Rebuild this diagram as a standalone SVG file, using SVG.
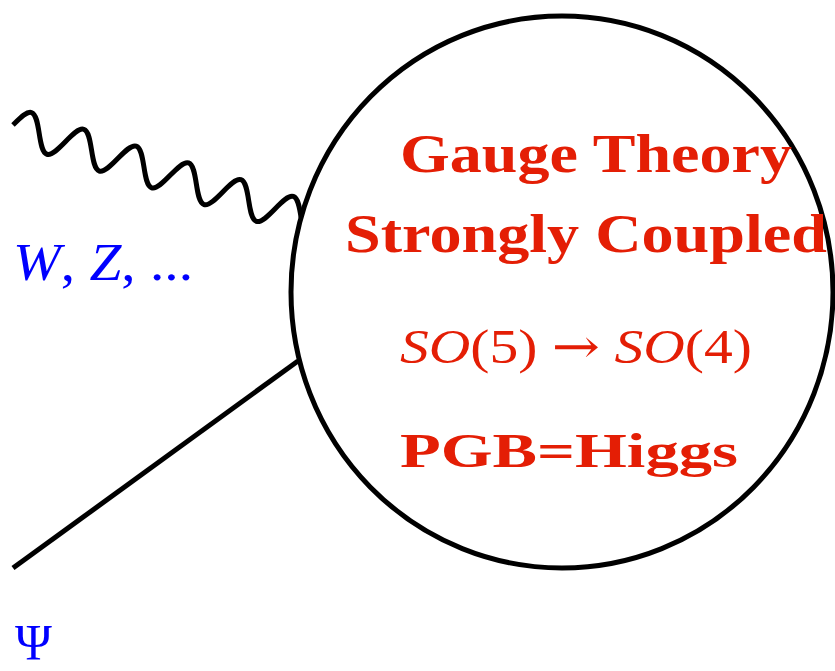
<svg xmlns="http://www.w3.org/2000/svg" width="835" height="671" viewBox="0 0 835 671">
<style>
.ln{fill:none;stroke:#000;stroke-width:5;stroke-linecap:butt;stroke-linejoin:round}
.red{fill:#e41e05;font-family:"Liberation Serif","Times New Roman",serif}
.b{font-weight:bold}
.blue{fill:#0000ff;font-family:"Liberation Serif","Times New Roman",serif}
.it{font-style:italic}
.arr{font-family:"DejaVu Serif",serif;font-style:normal}
</style>
<rect width="835" height="671" fill="#fff"/>
<g id="connectors">
<path class="ln" transform="translate(13,125) rotate(17.77)" d="M0,0
c 4.485,-8.453 8.774,-17.5 13.75,-17.5 c 4.976,0 9.265,8.547 13.75,17.5 c 4.485,8.953 8.774,17.5 13.75,17.5 c 4.976,0 9.265,-8.547 13.75,-17.5
c 4.485,-8.953 8.774,-17.5 13.75,-17.5 c 4.976,0 9.265,8.547 13.75,17.5 c 4.485,8.953 8.774,17.5 13.75,17.5 c 4.976,0 9.265,-8.547 13.75,-17.5
c 4.485,-8.953 8.774,-17.5 13.75,-17.5 c 4.976,0 9.265,8.547 13.75,17.5 c 4.485,8.953 8.774,17.5 13.75,17.5 c 4.976,0 9.265,-8.547 13.75,-17.5
c 4.485,-8.953 8.774,-17.5 13.75,-17.5 c 4.976,0 9.265,8.547 13.75,17.5 c 4.485,8.953 8.774,17.5 13.75,17.5 c 4.976,0 9.265,-8.547 13.75,-17.5
c 4.485,-8.953 8.774,-17.5 13.75,-17.5 c 4.976,0 9.265,8.547 13.75,17.5 c 4.485,8.953 8.774,17.5 13.75,17.5 c 4.976,0 9.265,-8.547 13.75,-17.5
c 4.485,-8.953 8.774,-17.5 13.75,-17.5 c 4.976,0 9.265,8.547 13.75,17.5"/>
<path class="ln" d="M13,568 L298,361"/>
</g>
<g id="blob">
<ellipse class="ln" cx="562" cy="292" rx="271" ry="276"/>
<text class="red b" x="400" y="172" font-size="54" textLength="392" lengthAdjust="spacingAndGlyphs">Gauge Theory</text>
<text class="red b" x="345" y="252" font-size="54" textLength="482" lengthAdjust="spacingAndGlyphs">Strongly Coupled</text>
<text class="red" x="400" y="363" font-size="48" textLength="352" lengthAdjust="spacingAndGlyphs"><tspan class="it">SO</tspan>(5) <tspan class="arr">→</tspan> <tspan class="it">SO</tspan>(4)</text>
<text class="red b" x="400" y="467" font-size="48" textLength="338" lengthAdjust="spacingAndGlyphs">PGB=Higgs</text>
</g>
<g id="label-wz">
<text class="blue" x="13" y="280" font-size="53" textLength="180" lengthAdjust="spacingAndGlyphs"><tspan class="it">W</tspan>, <tspan class="it">Z</tspan>, ...</text>
</g>
<g id="label-psi">
<text class="blue" x="15" y="659" font-size="50">Ψ</text>
</g>
</svg>
